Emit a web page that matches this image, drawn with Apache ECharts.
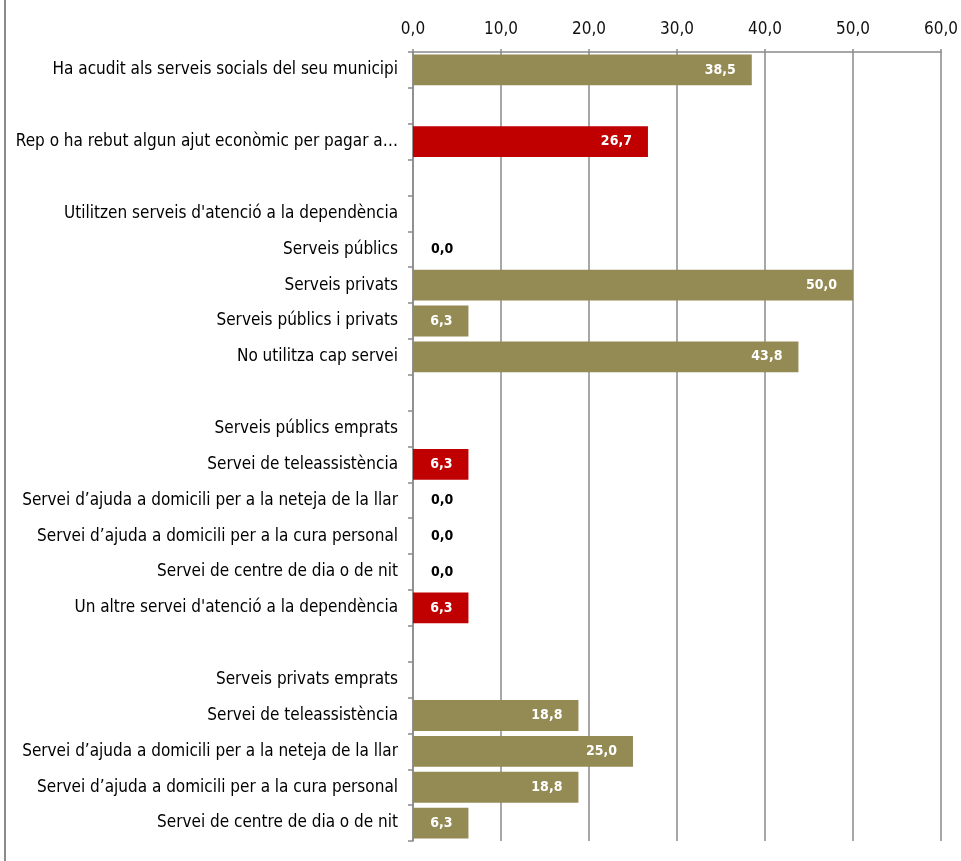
<!DOCTYPE html>
<html><head><meta charset="utf-8">
<script src="https://cdn.jsdelivr.net/npm/echarts@6/dist/echarts.min.js"></script>
<style>html,body{margin:0;padding:0;background:#fff}#c{width:961px;height:861px}</style>
</head><body><div id="c"></div>
<script>
const categories = [
  "Ha acudit als serveis socials del seu municipi",
  "",
  "Rep o ha rebut algun ajut econòmic per pagar a…",
  "",
  "Utilitzen serveis d'atenció a la dependència",
  "Serveis públics",
  "Serveis privats",
  "Serveis públics i privats",
  "No utilitza cap servei",
  "",
  "Serveis públics emprats",
  "Servei de teleassistència",
  "Servei d’ajuda a domicili per a la neteja de la llar",
  "Servei d’ajuda a domicili per a la cura personal",
  "Servei de centre de dia o de nit",
  "Un altre servei d'atenció a la dependència",
  "",
  "Serveis privats emprats",
  "Servei de teleassistència",
  "Servei d’ajuda a domicili per a la neteja de la llar",
  "Servei d’ajuda a domicili per a la cura personal",
  "Servei de centre de dia o de nit"
];
const values = [38.5, null, 26.7, null, null, 0.0, 50.0, 6.3, 43.8, null, null, 6.3, 0.0, 0.0, 0.0, 6.3, null, null, 18.8, 25.0, 18.8, 6.3];
const highlighted = [2, 11, 15];
const xTicks = [0, 10, 20, 30, 40, 50, 60];

const FONT = "'DejaVu Sans Condensed','Liberation Sans Narrow','Arial Narrow',sans-serif";
const OLIVE = '#948A54', RED = '#C00000', GRID = '#8a8a8a';
const fmt = v => v.toFixed(1).replace('.', ',');

const seriesData = values.map((v, i) => {
  if (v === null) return '-';
  const item = { value: v, itemStyle: { color: highlighted.includes(i) ? RED : OLIVE } };
  if (v === 0) {
    item.label = { position: 'right', distance: 18, color: '#000' };
  }
  return item;
});

const chart = echarts.init(document.getElementById('c'));
chart.setOption({
  animation: false,
  backgroundColor: '#fff',
  grid: { left: 413, right: 19, top: 52, bottom: 20, containLabel: false },
  xAxis: {
    type: 'value', position: 'top', min: xTicks[0], max: xTicks[xTicks.length - 1], interval: 10,
    axisLine: { show: true, lineStyle: { color: GRID, width: 1.5 } },
    axisTick: { show: true, length: 3, lineStyle: { color: GRID, width: 1.5 } },
    splitLine: { show: true, lineStyle: { color: GRID, width: 1.5 } },
    axisLabel: { fontFamily: FONT, fontSize: 17, color: '#111', margin: 14, formatter: v => fmt(v) }
  },
  yAxis: {
    type: 'category', inverse: true,
    data: categories.map((c, i) => String(i)),
    axisLine: { show: true, lineStyle: { color: GRID, width: 1.5 } },
    axisTick: { show: true, length: 5, interval: 0, lineStyle: { color: GRID, width: 1.5 } },
    axisLabel: { interval: 0, fontFamily: FONT, fontSize: 17, color: '#000', margin: 15,
      padding: [4, 0, 0, 0],
      formatter: (v, i) => categories[Number(v)] }
  },
  series: [{
    type: 'bar', data: seriesData, barCategoryGap: '14%',
    label: { show: true, position: 'insideRight', distance: 16, color: '#fff', fontFamily: FONT,
      fontWeight: 'bold', fontSize: 14, padding: [4, 0, 0, 0], formatter: p => fmt(p.value) }
  }],
  graphic: [{ type: 'rect', shape: { x: 4, y: 0, width: 2, height: 861 }, style: { fill: '#8a8a8a' }, silent: true }]
});
</script></body></html>
